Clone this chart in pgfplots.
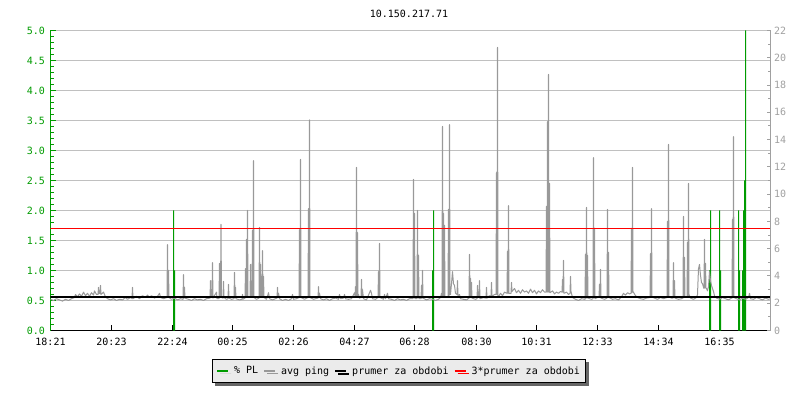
\documentclass[border=0pt]{standalone}
\usepackage{fontspec}
\setmainfont{DejaVu Sans Mono}
\usepackage{pgfplots}
\pgfplotsset{compat=1.18}
\usetikzlibrary{shadows}
\definecolor{plgreen}{RGB}{0,155,0}
\definecolor{pinggray}{RGB}{153,153,153}
\definecolor{gridgray}{RGB}{192,192,192}
\definecolor{axisgray}{RGB}{160,160,160}
\definecolor{legfill}{RGB}{235,235,235}
\pgfplotsset{/pgf/number format/assume math mode=true}
\newcommand{\tf}{\fontsize{10bp}{12bp}\selectfont}
\begin{document}
\begin{tikzpicture}
\useasboundingbox (0,0) rectangle (800bp,400bp);
\node[font=\tf, inner sep=0pt] at (409bp,386bp) {10.150.217.71};
\begin{axis}[
  at={(50.5bp,69.5bp)}, anchor=south west,
  scale only axis, width=720bp, height=300bp,
  xmin=0, xmax=720, ymin=0, ymax=5,
  axis x line*=bottom, axis y line*=left,
  x axis line style={black, line width=1bp, -},
  y axis line style={plgreen, line width=1bp, -},
  xtick={0,61,122,182,243,304,364,426,486,547,608,669},
  xticklabels={18:21,20:23,22:24,00:25,02:26,04:27,06:28,08:30,10:31,12:33,14:34,16:35},
  ytick={0,0.5,1,1.5,2,2.5,3,3.5,4,4.5,5},
  minor y tick num=4,
  tick align=inside,
  major tick length=5bp, minor tick length=3.5bp,
  x tick style={black, line width=1bp},
  y tick style={plgreen, line width=1bp},
  ymajorgrids, major grid style={gridgray, line width=1bp},
  xticklabel style={font=\tf, black, yshift=-4bp},
  yticklabel style={font=\tf, plgreen, xshift=-2bp, /pgf/number format/.cd, fixed, fixed zerofill, precision=1},
  legend style={at={(0.484,-0.135)}, anchor=center, draw=black, line width=1bp, fill=legfill,
    font=\tf, legend columns=4, inner xsep=4bp, inner ysep=5bp, nodes={inner sep=2pt},
    /tikz/every odd column/.append style={column sep=3bp},
    /tikz/every even column/.append style={column sep=3bp},
    drop shadow={shadow xshift=3bp, shadow yshift=-3bp, fill=black!60, opacity=1}},
  legend cell align=left,
]
\addplot[ybar, bar width=1bp, bar shift=0pt, fill=plgreen, draw=none,
  legend image code/.code={\draw[plgreen, line width=2bp, line cap=butt] (0bp,0bp) -- (11bp,0bp);}] table {
x y
123 2.0
124 1.0
382 1.0
383 2.0
659 1.0
660 2.0
669 2.0
670 1.0
688 2.0
689 1.0
692 1.0
693 2.0
694 2.5
695 5.0
};
\addlegendentry{\% PL}
\addplot[pinggray, sharp plot, line width=1bp, line join=round,
  legend image code/.code={\draw[pinggray, line width=2bp, line cap=butt] (0bp,0bp) -- (11bp,0bp);}] table {
x y
0 0.52
3 0.50
6 0.53
9 0.51
12 0.49
15 0.52
18 0.50
21 0.53
24 0.55
25 0.60
27 0.56
29 0.61
31 0.57
33 0.64
35 0.58
37 0.62
39 0.57
41 0.63
43 0.59
44 0.66
46 0.60
47.5 0.60
48 0.72
48.5 0.62
49.5 0.62
50 0.75
50.5 0.60
53 0.64
55 0.56
57 0.53
60 0.51
63 0.53
66 0.50
69 0.52
72 0.51
75 0.55
77 0.52
80 0.55
81.5 0.53
82 0.72
82.5 0.53
86 0.57
89 0.53
92 0.58
95 0.55
97 0.59
99 0.55
101 0.58
104 0.54
107 0.57
109 0.62
110 0.55
113 0.53
116.5 0.55
117 1.43
117.5 0.55
118 1.00
118.5 0.55
121 0.52
124 0.54
127 0.51
130 0.53
132.5 0.52
133 0.93
133.5 0.54
134 0.72
134.5 0.54
138 0.52
141 0.50
144 0.53
147 0.51
150 0.52
153 0.50
156 0.53
159.5 0.54
160 0.83
160.5 0.55
161.5 0.55
162 1.13
162.5 0.54
166 0.64
166.5 0.53
168.5 0.53
169 1.12
169.5 0.55
170 0.55
170.5 1.77
171 0.55
172.5 0.54
173 0.82
173.5 0.55
176 0.52
177.5 0.53
178 0.77
178.5 0.54
181 0.52
183.5 0.53
184 0.97
184.5 0.55
185 0.72
185.5 0.53
189 0.51
191.5 0.52
192 0.60
192.5 0.52
194.5 0.54
195 1.03
195.5 0.56
196 1.52
196.5 0.56
197 2.00
197.5 0.55
199.5 0.55
200 1.10
200.5 0.56
201 0.80
201.5 0.56
202 1.67
202.5 0.56
203 2.83
203.5 0.55
206 0.52
208.5 0.54
209 1.72
209.5 0.56
210 1.10
210.5 0.56
211 0.90
211.5 0.56
212 1.33
212.5 0.56
213 0.90
213.5 0.55
216 0.52
218 0.63
219 0.53
222 0.51
225 0.53
226.5 0.54
227 0.72
227.5 0.55
228 0.62
229 0.53
232 0.50
235 0.52
238 0.50
241 0.53
242 0.60
243 0.52
246 0.53
248.5 0.55
249 1.68
249.5 0.56
250 2.85
250.5 0.55
254 0.52
257.5 0.55
258 2.03
258.5 0.56
259 3.51
259.5 0.55
263 0.52
265 0.53
267.5 0.54
268 0.73
268.5 0.55
269 0.62
270 0.53
273 0.51
276 0.53
279 0.50
282 0.53
285 0.54
288 0.52
289 0.60
290 0.53
293 0.54
294 0.60
295 0.53
298 0.52
301 0.53
304 0.63
304.5 0.56
305 0.73
305.5 0.56
306 2.72
306.5 0.57
307 1.63
307.5 0.57
308 0.60
309 0.54
310.5 0.55
311 0.85
311.5 0.56
312 0.68
313 0.53
316 0.51
320 0.67
321 0.62
322 0.53
325 0.52
327.5 0.55
328 0.98
328.5 0.56
329 1.45
329.5 0.55
333 0.52
334 0.60
335 0.53
337 0.62
338 0.53
341 0.52
344 0.50
347 0.53
350 0.51
353 0.52
356 0.50
359 0.53
362.5 0.53
363 2.52
363.5 0.55
364 1.95
364.5 0.53
366.5 0.53
367 2.00
367.5 0.55
368 1.25
368.5 0.53
370.5 0.53
371 0.75
371.5 0.54
372 1.00
372.5 0.54
376 0.51
379 0.53
382 0.52
385 0.50
388 0.52
390 0.55
391 0.62
391.5 0.58
392 3.40
392.5 0.58
393 1.95
393.5 0.58
394 1.75
394.5 0.55
397.5 0.56
398 2.02
398.5 0.58
399 3.43
399.5 0.60
400 0.60
401 0.78
402 0.98
403 0.78
404 0.75
405 0.62
406.5 0.60
407 0.83
407.5 0.58
409 0.60
410 0.53
413 0.52
416 0.51
418.5 0.54
419 1.27
419.5 0.57
420 0.87
420.5 0.57
421 0.80
421.5 0.54
425 0.52
426.5 0.53
427 0.75
427.5 0.55
428.5 0.55
429 0.83
429.5 0.53
433 0.55
435.5 0.54
436 0.72
436.5 0.54
439 0.58
440.5 0.57
441 0.80
441.5 0.57
444 0.60
445.5 0.60
446 2.63
446.5 0.60
447 4.72
447.5 0.55
450 0.62
452 0.58
454 0.64
456.5 0.62
457 1.32
457.5 0.62
458 2.08
458.5 0.62
460.5 0.62
461 0.80
461.5 0.65
464 0.70
466 0.63
468 0.67
470 0.62
472 0.68
474 0.64
476 0.66
478 0.62
480 0.69
482 0.63
484 0.67
486 0.61
488 0.66
490 0.63
492 0.68
494 0.64
495.5 0.64
496 2.07
496.5 0.64
497 3.48
497.5 0.64
498 4.27
498.5 0.64
499 2.45
499.5 0.63
502 0.66
504 0.61
506 0.64
508 0.62
510 0.65
511.5 0.64
512 0.85
512.5 0.64
513 1.17
513.5 0.62
516 0.64
518 0.60
519.5 0.62
520 0.90
520.5 0.65
522 0.55
525 0.52
528 0.50
531 0.53
534.5 0.52
535 1.27
535.5 0.54
536 2.05
536.5 0.54
537 1.25
537.5 0.54
541 0.52
542.5 0.53
543 2.88
543.5 0.55
544 1.70
544.5 0.53
547 0.55
548.5 0.55
549 0.77
549.5 0.55
550 1.02
550.5 0.54
554 0.52
556.5 0.54
557 2.02
557.5 0.55
558 1.30
558.5 0.55
562 0.52
565 0.53
568 0.51
571 0.56
573 0.62
575 0.59
577 0.63
579 0.61
580.5 0.62
581 1.70
581.5 0.63
582 2.72
582.5 0.65
585 0.58
587 0.55
590 0.53
593 0.52
596 0.54
599.5 0.55
600 1.28
600.5 0.56
601 2.03
601.5 0.56
604 0.54
607 0.52
610 0.55
613 0.53
616.5 0.55
617 1.82
617.5 0.56
618 3.10
618.5 0.56
621 0.54
622.5 0.54
623 1.13
623.5 0.55
624 0.83
624.5 0.54
628 0.52
631 0.53
632.5 0.54
633 1.90
633.5 0.55
634 1.22
634.5 0.55
636.5 0.55
637 1.47
637.5 0.57
638 2.45
638.5 0.60
640 0.54
643 0.52
646 0.55
647 0.60
648 1.03
649 1.10
650 0.92
651 0.80
652 0.78
653 0.72
653.5 0.70
654 1.52
654.5 0.72
655 1.12
655.5 0.70
656 0.70
657 0.66
658 0.73
659 0.98
660 0.83
661 0.75
662 0.70
663 0.65
664 0.58
666 0.54
669 0.52
672 0.55
675 0.53
678 0.51
681 0.54
681.5 0.54
682 1.85
682.5 0.55
683 3.23
683.5 0.55
686 0.53
689 0.51
692 0.54
695 0.52
698 0.55
699 0.62
700 0.53
703 0.52
706 0.55
709 0.53
712 0.51
715 0.54
718 0.52
720 0.53
};
\addlegendentry{avg ping}
\addplot[black, line width=2bp,
  legend image code/.code={\draw[black, line width=2bp, line cap=butt] (0bp,0bp) -- (11bp,0bp);}] coordinates {(0,0.5583) (720,0.5583)};
\addlegendentry{prumer za obdobi}
\addplot[red, line width=1bp,
  legend image code/.code={\draw[red, line width=2bp, line cap=butt] (0bp,0bp) -- (11bp,0bp);}] coordinates {(0,1.7) (720,1.7)};
\addlegendentry{3*prumer za obdobi}
\end{axis}
\begin{axis}[
  at={(50.5bp,69.5bp)}, anchor=south west,
  scale only axis, width=720bp, height=300bp,
  xmin=0, xmax=720, ymin=0, ymax=22,
  axis x line=none, axis y line*=right,
  y axis line style={axisgray, line width=1bp, -},
  ytick={0,2,4,6,8,10,12,14,16,18,20,22},
  minor y tick num=1,
  tick align=inside,
  major tick length=4bp, minor tick length=3bp,
  y tick style={axisgray, line width=1bp},
  yticklabel style={font=\tf, axisgray},
]
\end{axis}
\end{tikzpicture}
\end{document}
